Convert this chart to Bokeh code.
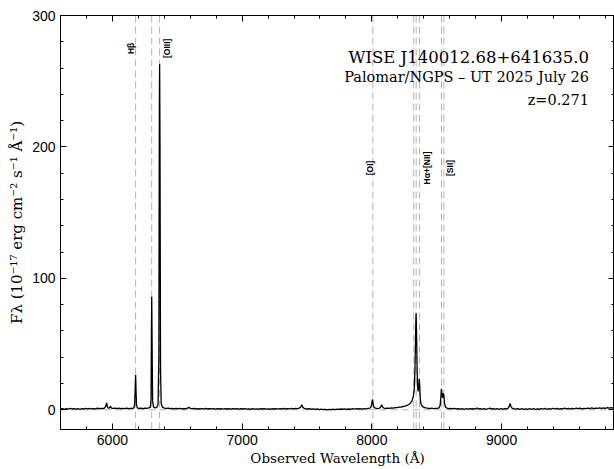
import math
from bokeh.plotting import figure
from bokeh.models import LinearAxis, Span, Range1d, SingleIntervalTicker, Label, ColumnDataSource
from bokeh.embed import file_html
from bokeh.resources import INLINE
from bokeh.core.properties import value

# ---------------- data ----------------
redshift = 0.271
title_lines = ["WISE J140012.68+641635.0", "Palomar/NGPS \u2013 UT 2025 July 26", "z=0.271"]

wave = [5600, 5615, 5630, 5645, 5660, 5675, 5690, 5705, 5720, 5735, 5750, 5765, 5780, 5795, 5810,
        5825, 5840, 5855, 5870, 5885, 5900, 5915, 5930, 5943, 5950, 5956, 5962, 5970, 5978, 5985,
        5992, 6005, 6020, 6035, 6050, 6065, 6080, 6095, 6110, 6125, 6140, 6155, 6166, 6172, 6176,
        6179, 6182, 6186, 6192, 6205, 6220, 6235, 6250, 6265, 6280, 6292, 6298, 6301, 6303, 6306,
        6310, 6318, 6330, 6342, 6352, 6358, 6362, 6364, 6367, 6371, 6376, 6385, 6400, 6415, 6430,
        6445, 6460, 6475, 6490, 6505, 6520, 6535, 6550, 6565, 6580, 6590, 6600, 6615, 6630, 6645,
        6660, 6675, 6690, 6705, 6720, 6735, 6750, 6765, 6780, 6795, 6810, 6825, 6840, 6855, 6870,
        6885, 6900, 6915, 6930, 6945, 6960, 6975, 6990, 7005, 7020, 7035, 7050, 7065, 7080, 7095,
        7110, 7125, 7140, 7155, 7170, 7185, 7200, 7215, 7230, 7245, 7260, 7275, 7290, 7305, 7320,
        7335, 7350, 7365, 7380, 7395, 7410, 7425, 7440, 7452, 7460, 7468, 7478, 7490, 7505, 7520,
        7535, 7550, 7565, 7580, 7595, 7610, 7625, 7640, 7655, 7670, 7685, 7700, 7715, 7730, 7745,
        7760, 7775, 7790, 7805, 7820, 7835, 7850, 7865, 7880, 7895, 7910, 7925, 7940, 7955, 7970,
        7985, 7995, 8001, 8005, 8010, 8017, 8028, 8040, 8052, 8062, 8070, 8076, 8082, 8092, 8105,
        8120, 8135, 8150, 8165, 8180, 8195, 8210, 8225, 8240, 8255, 8270, 8285, 8297, 8308, 8318,
        8326, 8332, 8336, 8339, 8341, 8344, 8348, 8352, 8357, 8361, 8365, 8369, 8373, 8380, 8390,
        8402, 8415, 8430, 8445, 8460, 8475, 8490, 8505, 8518, 8526, 8532, 8536, 8540, 8545, 8550,
        8555, 8560, 8567, 8578, 8592, 8607, 8622, 8637, 8652, 8667, 8682, 8697, 8712, 8727, 8742,
        8757, 8772, 8787, 8800, 8812, 8822, 8837, 8852, 8867, 8882, 8897, 8910, 8920, 8935, 8950,
        8965, 8980, 8995, 9010, 9025, 9040, 9052, 9060, 9066, 9072, 9080, 9095, 9110, 9125, 9140,
        9155, 9170, 9185, 9200, 9215, 9230, 9245, 9260, 9275, 9290, 9305, 9320, 9335, 9350, 9365,
        9380, 9395, 9410, 9425, 9440, 9455, 9470, 9485, 9500, 9515, 9530, 9545, 9560, 9575, 9590,
        9605, 9620, 9635, 9650, 9665, 9680, 9695, 9710, 9725, 9740, 9755, 9770, 9785, 9800, 9815,
        9830, 9845, 9860, 9875, 9890, 9900]

flux = [0.6, 0.9, 0.4, 0.8, 0.5, 1.0, 0.6, 0.9, 0.5, 0.8, 0.4, 0.9, 0.6, 1.1, 0.7,
        1.0, 0.6, 0.9, 0.7, 1.2, 0.8, 1.1, 0.9, 1.6, 3.2, 5.2, 2.0, 1.2, 1.5, 2.8,
        1.3, 1.0, 1.3, 0.9, 1.2, 0.8, 1.1, 0.9, 1.3, 0.8, 1.1, 1.0, 1.4, 5.0, 18.0,
        26.5, 15.0, 3.5, 1.4, 1.0, 1.3, 0.9, 1.2, 1.0, 1.4, 2.0, 8.0, 60.0, 86.0, 50.0,
        6.0, 2.0, 1.5, 1.8, 4.0, 40.0, 230.0, 263.0, 200.0, 30.0, 5.0, 2.0, 1.3, 1.0, 1.2,
        0.8, 1.1, 0.7, 1.0, 0.8, 1.1, 0.7, 0.9, 0.8, 1.2, 2.0, 1.0, 0.8, 1.1, 0.7,
        0.9, 0.6, 0.9, 0.7, 1.0, 0.6, 0.9, 0.7, 0.8, 0.5, 0.9, 0.6, 0.8, 0.5, 0.8,
        0.6, 0.9, 0.5, 0.8, 0.6, 0.9, 0.5, 0.8, 0.6, 0.9, 0.5, 0.7, 0.4, 0.8, 0.5,
        0.7, 0.4, 0.8, 0.6, 0.9, 0.5, 0.7, 0.4, 0.8, 0.6, 0.9, 0.5, 0.8, 0.6, 1.0,
        0.6, 0.9, 0.7, 1.0, 0.7, 1.1, 0.8, 1.2, 2.2, 3.8, 2.0, 1.1, 0.8, 0.6, 0.8,
        0.4, 0.7, 0.3, 0.6, 0.2, 0.5, 0.1, 0.4, 0.0, 0.3, 0.1, 0.4, 0.2, 0.5, 0.3,
        0.6, 0.4, 0.7, 0.3, 0.6, 0.4, 0.8, 0.5, 0.9, 0.6, 0.8, 0.5, 0.9, 0.7, 1.0,
        1.2, 2.5, 6.0, 8.0, 4.0, 1.8, 1.2, 0.9, 1.1, 1.5, 2.5, 3.8, 2.2, 1.3, 1.1,
        1.3, 1.0, 1.4, 1.3, 1.7, 1.6, 2.0, 2.1, 2.5, 2.8, 3.3, 4.0, 5.0, 6.5, 9.5,
        15.0, 30.0, 52.0, 68.0, 73.5, 60.0, 35.0, 18.0, 14.0, 17.0, 23.5, 18.0, 8.0, 4.0, 2.6,
        1.8, 1.4, 1.2, 0.9, 1.2, 0.8, 1.1, 1.0, 1.5, 3.5, 10.0, 16.0, 12.0, 9.0, 12.5,
        11.0, 5.0, 2.2, 1.3, 0.9, 1.1, 0.7, 1.0, 0.6, 0.9, 0.5, 0.8, 0.4, 0.8, 0.5,
        0.9, 0.6, 0.8, 0.5, 1.4, 0.6, 0.9, 0.5, 0.8, 0.4, 0.8, 1.3, 0.6, 0.9, 0.5,
        0.8, 0.4, 0.8, 0.5, 0.9, 0.7, 1.4, 3.0, 4.8, 2.5, 1.2, 0.8, 0.5, 0.9, 0.4,
        0.8, 0.3, 0.7, 0.3, 0.8, 0.4, 0.9, 0.3, 0.7, 0.4, 0.9, 0.5, 1.0, 0.4, 0.8,
        0.5, 1.0, 0.6, 1.1, 0.5, 0.9, 0.6, 1.2, 0.7, 1.1, 0.6, 1.0, 0.7, 1.2, 0.8,
        1.3, 0.7, 1.1, 0.8, 1.3, 0.9, 1.4, 0.9, 1.3, 1.0, 1.5, 1.0, 1.4, 1.1, 1.6,
        1.2, 1.7, 1.3, 1.8, 1.4, 1.6]

# rest-frame wavelengths of marked lines
rest_lines = [4861.3, 4958.9, 5006.8, 6300.3, 6548.0, 6562.8, 6583.4, 6716.4, 6730.8]

line_names = ["H\u03b2", "[OIII]", "[OI]", "H\u03b1+[NII]", "[SII]"]
label_wave = [6141, 6420, 7982, 8421, 8599]
label_flux = [275, 275, 184, 184, 184]

x_ticks_major = 1000
y_ticks_major = 100

# ---------------- figure ----------------
p = figure(width=614, height=469,
           x_range=Range1d(5600, 9870), y_range=Range1d(-15, 300),
           output_backend="svg", toolbar_location=None,
           min_border_left=60, min_border_right=0, min_border_top=15, min_border_bottom=40,
           x_axis_label="Observed Wavelength (\u00c5)",
           y_axis_label="F\u03bb (10\u207b\u00b9\u2077 erg cm\u207b\u00b2 s\u207b\u00b9 \u00c5\u207b\u00b9)")
p.xgrid.visible = False
p.ygrid.visible = False
p.outline_line_color = "black"
p.outline_line_width = 1
p.background_fill_color = "white"
p.border_fill_color = "white"

xt = SingleIntervalTicker(interval=x_ticks_major, num_minor_ticks=5)
yt = SingleIntervalTicker(interval=y_ticks_major, num_minor_ticks=5)

def style_axis(ax, labels=True):
    ax.axis_line_color = "black"
    ax.major_tick_line_color = "black"
    ax.minor_tick_line_color = "black"
    ax.major_tick_in = 6
    ax.major_tick_out = 0
    ax.minor_tick_in = 3
    ax.minor_tick_out = 0
    if labels:
        ax.major_label_text_font = "Liberation Sans"
        ax.major_label_text_font_size = "14px"
        ax.major_label_text_color = "black"
        ax.axis_label_text_font = "DejaVu Serif"
        ax.axis_label_text_font_style = "normal"
        ax.axis_label_text_color = "black"
    else:
        ax.major_label_text_font_size = "1px"
        ax.major_label_text_color = None
        ax.major_label_standoff = 0

p.xaxis.ticker = xt
p.yaxis.ticker = yt
style_axis(p.xaxis[0])
style_axis(p.yaxis[0])
p.xaxis.axis_label_text_font_size = "13.5px"
p.yaxis.axis_label_text_font_size = "15px"
p.xaxis.major_label_standoff = 5
p.xaxis.axis_label_standoff = 2
p.yaxis.major_label_standoff = 5
p.yaxis.axis_label_standoff = 3

top_ax = LinearAxis(ticker=xt)
style_axis(top_ax, labels=False)
p.add_layout(top_ax, "above")
right_ax = LinearAxis(ticker=yt)
style_axis(right_ax, labels=False)
p.add_layout(right_ax, "right")

# dashed line markers
for rw in rest_lines:
    p.add_layout(Span(location=rw * (1 + redshift), dimension="height",
                      line_color="#b4b4b4", line_dash="7 4", line_width=1, level="underlay"))
p.add_layout(Span(location=0, dimension="width", line_color="#b4b4b4",
                  line_dash="7 4", line_width=1, level="underlay"))

# spectrum
src = ColumnDataSource(data=dict(w=wave, f=flux))
p.line("w", "f", source=src, line_color="black", line_width=1.3)

# line labels
lsrc = ColumnDataSource(data=dict(x=label_wave, y=label_flux, t=line_names))
p.text("x", "y", text="t", source=lsrc, angle=math.pi / 2,
       text_align="center", text_baseline="middle",
       text_font=value("Liberation Sans"), text_font_style="bold",
       text_font_size="8.5px", text_color="black")

# annotation text (top right)
for txt, yy, fs in zip(title_lines, [268, 253, 236], ["16.5px", "14.5px", "14.5px"]):
    p.add_layout(Label(x=9673, y=yy, text=txt, text_align="right", text_baseline="middle",
                       text_font="DejaVu Serif", text_font_size=fs, text_color="black"))

open("out.html", "w").write(file_html(p, INLINE))
